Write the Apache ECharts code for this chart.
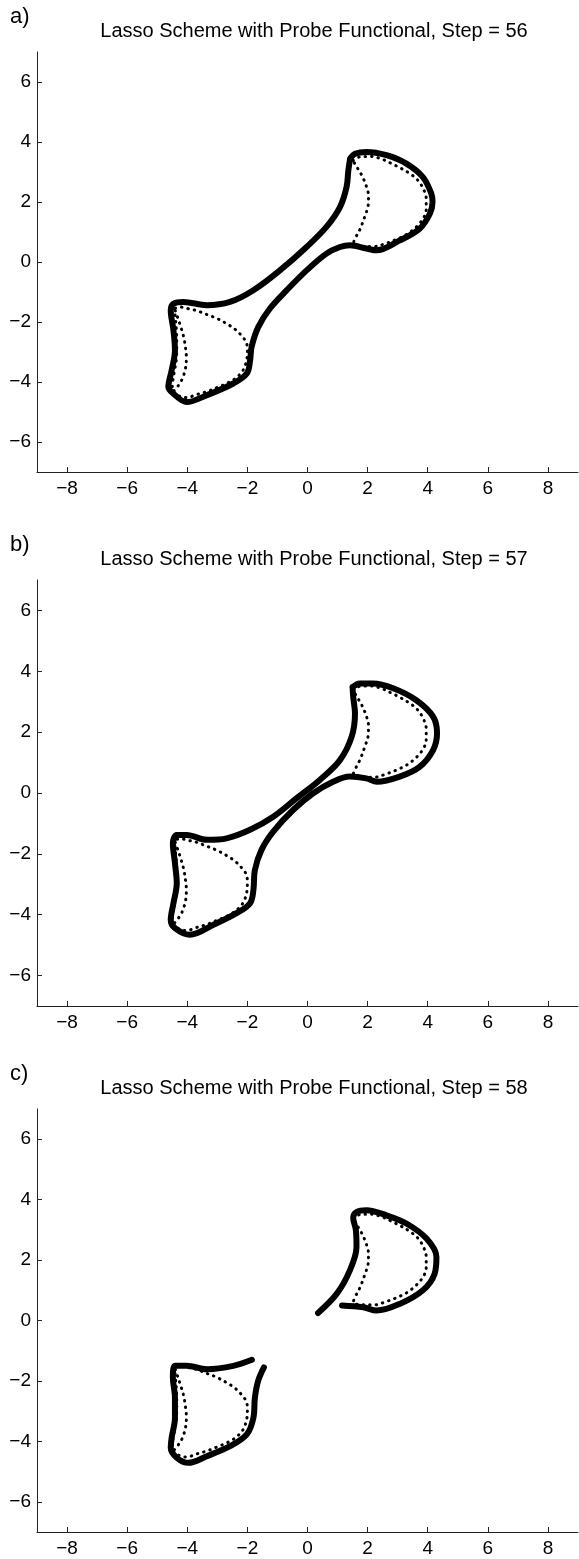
<!DOCTYPE html>
<html>
<head>
<meta charset="utf-8">
<script src="https://cdn.jsdelivr.net/npm/echarts@6/dist/echarts.min.js"></script>
<style>
html,body{margin:0;padding:0;background:#fff;}
#chart{width:579px;height:1559px;}
</style>
</head>
<body>
<div id="chart"></div>
<script>
// ---- tick labels / text ----
const xTicks = [-8, -6, -4, -2, 0, 2, 4, 6, 8];
const yTicks = [-6, -4, -2, 0, 2, 4, 6];
const panelLabels = ['a)', 'b)', 'c)'];
const panelTitles = [
  'Lasso Scheme with Probe Functional, Step = 56',
  'Lasso Scheme with Probe Functional, Step = 57',
  'Lasso Scheme with Probe Functional, Step = 58'
];

// ---- probe functional (dotted), same in all panels ----
const probeUpperRight = [
  [1.52,3.38],[1.80,3.52],[2.10,3.52],[2.45,3.44],[2.80,3.28],[3.10,3.13],[3.40,2.95],[3.65,2.75],
  [3.85,2.45],[3.95,2.10],[3.95,1.75],[3.85,1.45],[3.60,1.15],[3.30,0.92],[2.95,0.75],[2.60,0.62],
  [2.25,0.52],[1.90,0.52],[1.52,0.60],[1.62,0.85],[1.75,1.10],[1.90,1.50],[2.02,1.90],[2.03,2.20],
  [1.95,2.55],[1.80,2.90],[1.62,3.20],[1.52,3.38]
];
const probeLowerLeft = [
  [-4.42,-1.55],[-4.40,-1.85],[-4.36,-2.30],[-4.35,-2.80],[-4.36,-3.20],[-4.42,-3.60],[-4.48,-3.95],
  [-4.50,-4.22],[-4.30,-4.45],[-4.02,-4.52],[-3.70,-4.42],[-3.35,-4.32],[-3.00,-4.18],[-2.69,-4.05],
  [-2.40,-3.88],[-2.15,-3.62],[-2.03,-3.30],[-2.00,-3.00],[-2.02,-2.72],[-2.20,-2.45],[-2.40,-2.25],
  [-2.70,-2.05],[-3.02,-1.88],[-3.35,-1.75],[-3.69,-1.62],[-4.00,-1.55],[-4.24,-1.50],[-4.42,-1.55]
];
const probeLowerLeftInner = [
  [-4.40,-1.62],[-4.32,-1.85],[-4.22,-2.15],[-4.12,-2.50],[-4.06,-2.85],[-4.03,-3.20],[-4.06,-3.55],
  [-4.16,-3.88],[-4.30,-4.12],[-4.45,-4.30]
];

// ---- lasso curves (thick) ----
const lassoStep56 = [
  [1.42,3.45],[1.58,3.61],[1.96,3.67],[2.63,3.56],[3.29,3.28],[3.84,2.83],[4.12,2.28],[4.16,2.00],
  [4.07,1.61],[3.73,1.11],[3.07,0.72],[2.30,0.39],[1.96,0.45],[1.41,0.56],[1.08,0.50],[0.63,0.28],
  [-0.03,-0.28],[-0.69,-0.94],[-1.25,-1.55],[-1.64,-2.17],[-1.86,-2.83],[-1.91,-3.28],[-2.02,-3.72],
  [-2.47,-4.05],[-3.35,-4.44],[-4.02,-4.67],[-4.46,-4.39],[-4.63,-4.17],[-4.52,-3.61],[-4.41,-2.94],
  [-4.46,-2.28],[-4.55,-1.61],[-4.46,-1.39],[-4.13,-1.33],[-3.35,-1.44],[-2.58,-1.33],[-1.80,-0.94],
  [-0.92,-0.28],[-0.03,0.50],[0.63,1.17],[1.08,1.83],[1.30,2.50],[1.36,3.06],[1.42,3.45]
];
const lassoStep57 = [
  [1.50,3.48],[1.74,3.60],[2.18,3.60],[2.85,3.44],[3.62,3.05],[4.18,2.51],[4.31,1.96],[4.18,1.41],
  [3.73,0.86],[3.07,0.54],[2.31,0.37],[1.96,0.48],[1.41,0.54],[0.85,0.37],[0.19,-0.01],[-0.48,-0.56],
  [-1.14,-1.27],[-1.53,-1.87],[-1.75,-2.53],[-1.80,-3.19],[-1.91,-3.62],[-2.36,-3.95],[-3.13,-4.33],
  [-3.91,-4.66],[-4.41,-4.44],[-4.55,-4.17],[-4.46,-3.62],[-4.35,-2.97],[-4.41,-2.31],[-4.48,-1.65],
  [-4.35,-1.38],[-4.02,-1.38],[-3.35,-1.54],[-2.69,-1.49],[-1.91,-1.21],[-1.14,-0.78],[-0.36,-0.17],
  [0.41,0.43],[1.08,1.08],[1.47,1.85],[1.58,2.62],[1.52,3.16],[1.50,3.48]
];
const lassoStep58Upper = [
  [0.35,0.25],[0.97,0.88],[1.41,1.66],[1.63,2.43],[1.61,2.99],[1.52,3.40],[1.63,3.59],[1.96,3.65],
  [2.63,3.48],[3.29,3.21],[3.96,2.71],[4.29,2.10],[4.23,1.55],[3.84,1.00],[3.07,0.55],[2.30,0.33],
  [1.85,0.44],[1.15,0.50]
];
const lassoStep58Lower = [
  [-1.85,-1.30],[-2.47,-1.50],[-3.35,-1.61],[-4.02,-1.50],[-4.41,-1.50],[-4.48,-1.89],[-4.41,-2.55],
  [-4.41,-3.22],[-4.52,-3.88],[-4.55,-4.21],[-4.35,-4.54],[-3.96,-4.71],[-3.35,-4.49],[-2.58,-4.16],
  [-2.02,-3.77],[-1.80,-3.22],[-1.75,-2.55],[-1.64,-1.99],[-1.45,-1.55]
];

const panelLassos = [[lassoStep56], [lassoStep57], [lassoStep58Upper, lassoStep58Lower]];

// ---- layout ----
const gridBoxes = [
  {left: 37, top: 52, width: 541, height: 420},
  {left: 37, top: 580, width: 541, height: 426},
  {left: 37, top: 1109, width: 541, height: 423}
];
const FONT = '"Liberation Sans", Arial, Helvetica, sans-serif';
const minusFmt = v => String(v).replace('-', '\u2212');

const grids = [], xAxes = [], yAxes = [], titles = [], series = [];
gridBoxes.forEach((g, i) => {
  grids.push(Object.assign({containLabel: false}, g));
  xAxes.push({
    type: 'value', gridIndex: i, min: -9, max: 9,
    axisLine: {show: true, onZero: false, lineStyle: {color: '#222', width: 1}},
    axisTick: {show: true, inside: true, length: 5, customValues: xTicks, lineStyle: {color: '#222'}},
    axisLabel: {customValues: xTicks, formatter: minusFmt, color: '#000', fontSize: 19, fontFamily: FONT, margin: 7},
    splitLine: {show: false}
  });
  yAxes.push({
    type: 'value', gridIndex: i, min: -7, max: 7,
    axisLine: {show: true, onZero: false, lineStyle: {color: '#222', width: 1}},
    axisTick: {show: true, inside: true, length: 5, customValues: yTicks, lineStyle: {color: '#222'}},
    axisLabel: {customValues: yTicks, formatter: minusFmt, color: '#000', fontSize: 19, fontFamily: FONT, margin: 6},
    splitLine: {show: false}
  });
  titles.push({
    text: panelLabels[i], left: 5, top: g.top - 51,
    textStyle: {fontSize: 22, fontWeight: 'normal', color: '#000', fontFamily: FONT}
  });
  titles.push({
    text: panelTitles[i], left: 309, top: g.top - 36, textAlign: 'center',
    textStyle: {fontSize: 20, fontWeight: 'normal', color: '#000', fontFamily: FONT}
  });
  panelLassos[i].forEach(seg => {
    series.push({
      type: 'line', xAxisIndex: i, yAxisIndex: i, data: seg, smooth: 0.35,
      symbol: 'none', silent: true,
      lineStyle: {color: '#000', width: 6, cap: 'round', join: 'round'}
    });
  });
  [probeUpperRight, probeLowerLeft, probeLowerLeftInner].forEach(p => {
    series.push({
      type: 'line', xAxisIndex: i, yAxisIndex: i, data: p, smooth: 0.35,
      symbol: 'none', silent: true,
      lineStyle: {color: '#000', width: 3, type: [0.5, 6], cap: 'round'}
    });
  });
});

const chart = echarts.init(document.getElementById('chart'), null, {renderer: 'canvas'});
chart.setOption({
  animation: false,
  backgroundColor: '#fff',
  title: titles,
  grid: grids,
  xAxis: xAxes,
  yAxis: yAxes,
  series: series
});
</script>
</body>
</html>
